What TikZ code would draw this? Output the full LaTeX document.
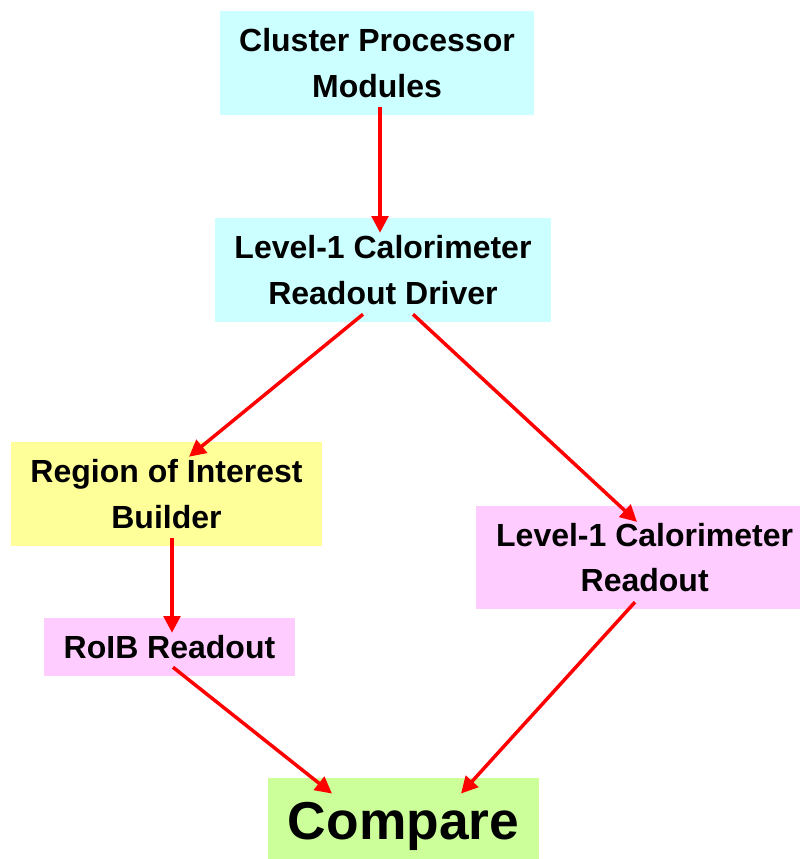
\documentclass[tikz,border=0pt]{standalone}
\usepackage{fontspec}
\setmainfont{Liberation Sans}
\usetikzlibrary{arrows.meta,calc}
\definecolor{BoxCyan}{HTML}{CCFFFF}
\definecolor{BoxYellow}{HTML}{FFFF99}
\definecolor{BoxPink}{HTML}{FFCCFF}
\definecolor{BoxGreen}{HTML}{CCFF99}
\definecolor{FlowRed}{HTML}{FF0000}
\begin{document}
\begin{tikzpicture}[x=0.75pt, y=-0.75pt,
  every node/.style={font=\fontsize{24}{34}\selectfont\bfseries, align=center, inner sep=0pt},
  stage/.style={minimum width=#1*0.75pt},
  flow/.style={-{Triangle[length=12.5pt, width=12.5pt]}, line width=2.6pt, FlowRed}]
\useasboundingbox (0,0) rectangle (800,859);
\node[stage=314, fill=BoxCyan, minimum height=78pt] (cpm) at (377,63) {Cluster Processor\\Modules};
\node[stage=336, fill=BoxCyan, minimum height=78pt] (rod) at (383,270) {Level-1 Calorimeter\\Readout Driver};
\node[stage=311, fill=BoxYellow, minimum height=78pt] (roib) at (166.5,494) {Region of Interest\\Builder};
\node[stage=324, fill=BoxPink, minimum height=77pt] (l1ro) at (638,557.5) {\hspace*{10pt}Level-1 Calorimeter\\\hspace*{10pt}Readout};
\node[stage=251, fill=BoxPink, minimum height=43.5pt] (roibro) at (169.5,647) {RoIB Readout};
\node[stage=271, fill=BoxGreen, minimum height=61pt, font=\fontsize{40}{48}\selectfont\bfseries] (cmp) at (403.5,818.5) {\raisebox{-6pt}[\height][\depth]{Compare}};
% readout chain
\draw[flow] ($(cpm.south)+(3,-8)$) -- ($(rod.north)+(-3,15)$);
\draw[flow] ($(rod.south)+(-20,-8)$) -- ($(roib.north)+(22.5,15)$);
\draw[flow] ($(rod.south)+(30,-8)$) -- ($(l1ro.north)+(-1,16)$);
\draw[flow] ($(roib.south)+(5.5,-8)$) -- ($(roibro.north)+(2.5,15)$);
\draw[flow] ($(roibro.south)+(3.5,-9)$) -- ($(cmp.north)+(-71.5,16)$);
\draw[flow] ($(l1ro.south)+(-3,-7)$) -- ($(cmp.north)+(57.5,16)$);
\end{tikzpicture}
\end{document}
